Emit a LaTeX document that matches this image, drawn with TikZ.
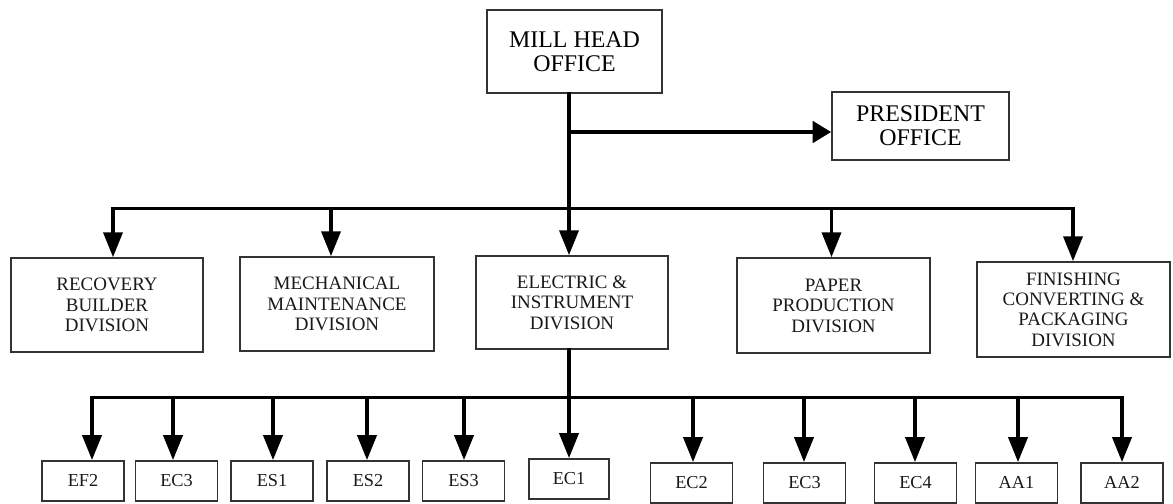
\documentclass[tikz,border=0pt]{standalone}
\usepackage{fontspec}
\setmainfont{Liberation Serif}
\usepackage{tikz}
\usetikzlibrary{arrows.meta, positioning, calc}
\tikzset{
    escr/.style    = {draw=black!80, line width=1.3pt, align=center, inner sep=2pt,
                      font=\fontsize{17}{17}\selectfont},
    divisao/.style = {draw=black!80, line width=1.3pt, align=center, inner sep=2pt,
                      minimum width=4.8cm, minimum height=2.35cm, text=black!90,
                      font=\fontsize{13.5}{14.5}\selectfont},
    setor/.style   = {draw=black!80, line width=1.3pt, anchor=north, inner sep=0pt,
                      minimum width=2.05cm, minimum height=1.0cm, text=black!90,
                      font=\fontsize{13}{14}\selectfont},
    lig/.style     = {line width=2.2pt, black, line cap=rect},
    seta/.style    = {lig, -{Triangle[length=6.2mm, width=4.8mm]}},
    setap/.style   = {lig, -{Triangle[length=4.6mm, width=5.4mm]}},
}

\begin{document}
\begin{tikzpicture}
    \useasboundingbox (0,0) rectangle (29.325,-12.575);
    % escritorios
    \node[escr, minimum width=4.375cm, minimum height=2.075cm] (mill) at (14.3625,-1.2875) {MILL HEAD\\OFFICE};
    \node[escr, minimum width=4.425cm, minimum height=1.7cm] (pres) at (23.0125,-3.15) {PRESIDENT\\OFFICE};
    % divisoes
    \node[divisao] (rec) at (2.675,-7.625) {RECOVERY\\BUILDER\\DIVISION};
    \node[divisao, minimum width=4.85cm] (mec) at (8.425,-7.6) {MECHANICAL\\MAINTENANCE\\DIVISION};
    \node[divisao, minimum height=2.325cm] (ele) at (14.3,-7.5625) {ELECTRIC \&\\INSTRUMENT\\DIVISION};
    \node[divisao, minimum width=4.825cm, minimum height=2.375cm] (pap) at (20.8375,-7.6375) {PAPER\\PRODUCTION\\DIVISION};
    \node[divisao, minimum width=4.825cm, minimum height=2.375cm] (fin) at (26.8375,-7.7375) {FINISHING\\CONVERTING \&\\PACKAGING\\DIVISION};
    % setores
    \node[setor] (ef2) at (2.075,-11.5) {EF2};
    \node[setor] (eca) at (4.4125,-11.5) {EC3};
    \node[setor] (es1) at (6.8,-11.5) {ES1};
    \node[setor] (es2) at (9.2,-11.5) {ES2};
    \node[setor] (es3) at (11.5875,-11.5) {ES3};
    \node[setor, minimum width=2.0cm] (ec1) at (14.225,-11.45) {EC1};
    \node[setor] (ec2) at (17.2875,-11.55) {EC2};
    \node[setor] (ecb) at (20.1125,-11.55) {EC3};
    \node[setor] (ec4) at (22.8875,-11.55) {EC4};
    \node[setor] (aa1) at (25.4125,-11.55) {AA1};
    \node[setor] (aa2) at (28.05,-11.55) {AA2};
    % ligacoes
    \coordinate (tronco) at (14.225,-5.2125);
    \coordinate (pj) at (14.225,-3.3);
    \coordinate (sub) at (14.225,-9.9375);
    \draw[seta] (mill.south -| tronco) -- (ele.north -| tronco);
    \draw[setap] (pj) -- (pj -| pres.west);
    \foreach \x/\n in {2.825/rec, 8.275/mec, 20.7875/pap, 26.825/fin}{
        \coordinate (d\n) at (\x,-5.2125);
        \draw[seta] (d\n) -- (d\n |- \n.north);
    }
    \draw[lig] (drec) -- (dfin);
    \draw[lig] (ele.south -| sub) -- (sub);
    \foreach \x/\n in {2.3/ef2, 4.325/eca, 6.825/es1, 9.175/es2, 11.6/es3, 14.225/ec1,
                       17.325/ec2, 20.1/ecb, 22.875/ec4, 25.45/aa1, 28.05/aa2}{
        \coordinate (s\n) at (\x,-9.9375);
        \draw[seta] (s\n) -- (s\n |- \n.north);
    }
    \draw[lig] (sef2) -- (saa2);
\end{tikzpicture}
\end{document}
